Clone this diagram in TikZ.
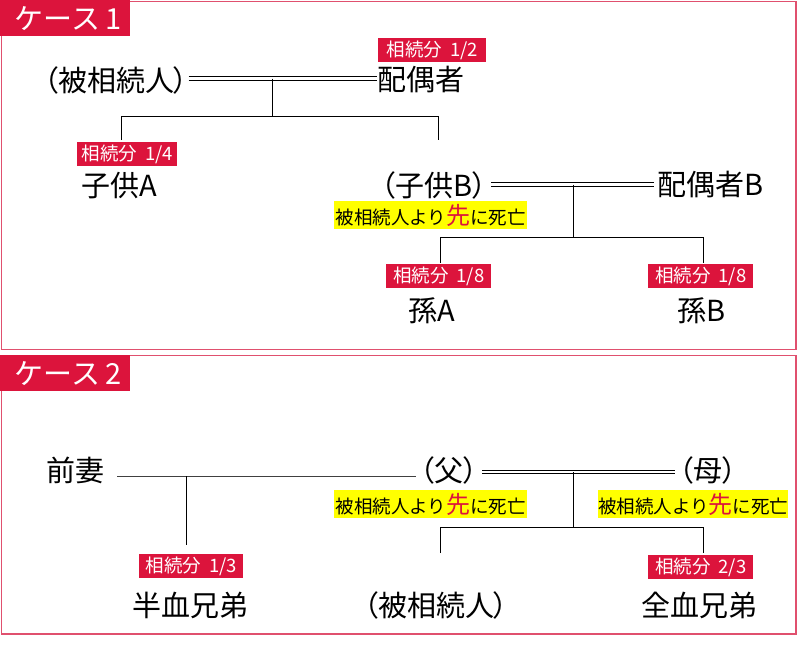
\documentclass[tikz,border=0pt]{standalone}
\usepackage{fontspec}
\setmainfont{Noto Sans CJK JP}
\newfontfamily\jpp[RawFeature=+palt]{Noto Sans CJK JP}
\definecolor{crim}{HTML}{DC143C}
\definecolor{frame}{HTML}{E0506E}
\definecolor{yel}{HTML}{FFFF00}
\tikzset{
  person/.style={inner sep=0pt, font=\jpp\fontsize{29}{30}\selectfont},
  share/.style={fill=crim, text=white, inner sep=0pt, minimum height=24pt, font=\fontsize{18.5}{19}\selectfont, anchor=north west},
  dead/.style={fill=yel, inner sep=0pt, minimum height=28pt, font=\fontsize{18.5}{19}\selectfont, anchor=north west},
  casebox/.style={draw=frame, line width=1.1pt},
  caselabel/.style={fill=crim, text=white, inner sep=0pt, anchor=north west, minimum width=130pt, minimum height=36pt, font=\fontsize{29}{30}\selectfont},
  ln/.style={line width=0.9pt, black},
}
\newcommand{\deadtext}{被相続人より{\fontsize{24}{24}\selectfont\textcolor{crim}{先}}に死亡}
\newcommand{\shr}[1]{相続分\hspace{8pt}#1}
\begin{document}
\begin{tikzpicture}[x=1pt,y=-1pt]
\useasboundingbox (0,0) rectangle (798,645);
% frames
\draw[casebox] (1.5,1.5) rectangle (796,349.5);
\draw[casebox] (1.5,355.5) rectangle (796,634);
\node[caselabel] (c1) at (0,0) {\hspace*{6pt}ケース\,1\hfill};
\node[caselabel] (c2) at (0,355) {\hspace*{6pt}ケース\,2\hfill};

% ---------- case 1
\node[person] (dec1) at (116,80) {（被相続人）};
\node[person, anchor=west] (sp1) at (377,80) {配偶者};
\node[share, minimum width=108pt] (s12) at (378,38) {\shr{1/2}};
\node[person] (chA) at (119,186) {子供A};
\node[share, minimum width=100pt] (s14) at (77,142) {\shr{1/4}};
\node[person] (chB) at (434,185) {（子供B）};
\node[person, anchor=west] (spB) at (657,185) {配偶者B};
\node[dead, minimum width=193pt] (d1) at (334,201) {\deadtext};
\node[share, minimum width=105pt] (s18a) at (386,264) {\shr{1/8}};
\node[share, minimum width=105pt] (s18b) at (648,264) {\shr{1/8}};
\node[person] (gA) at (432,311) {孫A};
\node[person] (gB) at (702,311) {孫B};

\coordinate (m1) at (272,78.5);
\coordinate (j1) at (272,116);
\draw[ln] ([yshift=-1.7pt]dec1.east |- m1) -- ([yshift=-1.7pt]sp1.west |- m1);
\draw[ln] ([yshift=1.7pt]dec1.east |- m1) -- ([yshift=1.7pt]sp1.west |- m1);
\draw[ln] (m1) -- (j1);
\draw[ln] (121,140) -- (121,116) -- (438,116) -- (438,140);

\coordinate (m2) at (573,184.5);
\draw[ln] ([yshift=-1.7pt,xshift=4pt]chB.east |- m2) -- ([yshift=-1.7pt,xshift=-3pt]spB.west |- m2);
\draw[ln] ([yshift=1.7pt,xshift=4pt]chB.east |- m2) -- ([yshift=1.7pt,xshift=-3pt]spB.west |- m2);
\draw[ln] (m2) -- (573,237);
\draw[ln] (440,263) -- (440,237) -- (703,237) -- (703,263);

% ---------- case 2
\node[person] (ex) at (75,470) {前妻};
\node[person] (fa) at (449,470) {（父）};
\node[person] (mo) at (708,470) {（母）};
\node[dead, minimum width=193pt] (d2) at (334,490) {\deadtext};
\node[dead, minimum width=189pt] (d3) at (598,490) {\deadtext};
\node[share, minimum width=104pt] (s13) at (139,554) {\shr{1/3}};
\node[share, minimum width=105pt] (s23) at (648,555) {\shr{2/3}};
\node[person] (half) at (190,605) {半血兄弟};
\node[person] (dec2) at (436,605) {（被相続人）};
\node[person] (full) at (699,605) {全血兄弟};

\draw[ln, black!75] (117,476) -- ([xshift=-4pt]fa.west |- 0,476);
\draw[ln] (186,476) -- (186,545);
\coordinate (m3) at (573,472);
\draw[ln] ([yshift=-1.7pt,xshift=4pt]fa.east |- m3) -- ([yshift=-1.7pt,xshift=-4pt]mo.west |- m3);
\draw[ln] ([yshift=1.7pt,xshift=4pt]fa.east |- m3) -- ([yshift=1.7pt,xshift=-4pt]mo.west |- m3);
\draw[ln] (m3) -- (573,527);
\draw[ln] (440,553) -- (440,527) -- (703,527) -- (703,553);
\end{tikzpicture}
\end{document}
